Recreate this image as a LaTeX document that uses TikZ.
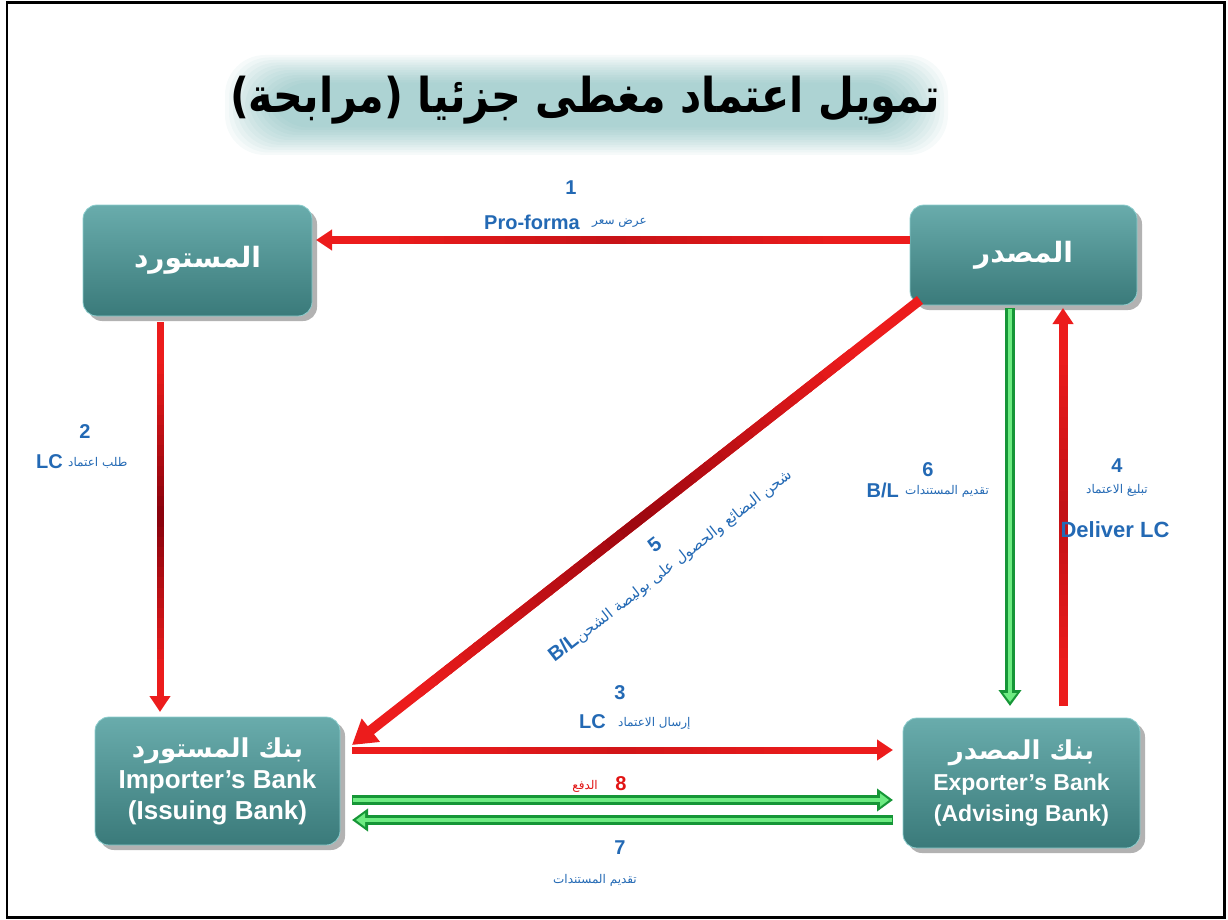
\documentclass[tikz,border=0pt]{standalone}
\usepackage{fontspec}
\setmainfont{Liberation Sans}
\newfontfamily\arabicfont[Script=Arabic]{DejaVu Sans}
\TeXXeTstate=1
\usetikzlibrary{arrows.meta,shadows,calc}
\definecolor{lblue}{RGB}{35,105,180}
\definecolor{boxtop}{RGB}{105,172,172}
\definecolor{boxbot}{RGB}{58,122,122}
\definecolor{boxedge}{RGB}{140,205,205}
\definecolor{arrred}{RGB}{236,28,28}
\definecolor{arrdark}{RGB}{130,0,12}
\definecolor{grdark}{RGB}{22,150,55}
\definecolor{grlight}{RGB}{110,235,130}
\definecolor{glowc}{RGB}{80,160,160}
\definecolor{lred}{RGB}{225,20,20}
\newcommand\midshade[4]{%
  \foreach \i in {0,...,29}{%
    \pgfmathsetmacro\ta{0.12+\i*0.76/30}%
    \pgfmathsetmacro\tb{0.12+(\i+1)*0.76/30+0.003}%
    \pgfmathsetmacro\dk{#3*(1-abs(0.12+(\i+0.5)*0.76/30-0.5)/0.38)}%
    \draw[line width=#4, draw=arrdark!\dk!arrred] ($#1!\ta!#2$) -- ($#1!\tb!#2$);%
  }}
\begin{document}
\begin{tikzpicture}[x=1pt,y=-1pt,
  box/.style={rounded corners=14pt, top color=boxtop, bottom color=boxbot, draw=boxedge,
    line width=0.8pt, text=white, align=center, outer sep=0pt, inner sep=2pt,
    drop shadow={shadow xshift=5pt, shadow yshift=-5pt, opacity=0.3, fill=black}},
  boxar/.style={font=\arabicfont\bfseries\fontsize{28}{32}\selectfont},
  boxen/.style={font=\bfseries\fontsize{#1}{31}\selectfont},
  redarr/.style={draw=arrred, line width=#1, -{Triangle[length=16pt,width=20pt]}},
  bigred/.style={draw=arrred, line width=#1, -{Triangle[length=24pt,width=28pt]}},
  greenarr/.style={draw=grdark, line width=10pt, -{Triangle[length=16pt,width=22pt]},
    postaction={draw=grlight, line width=4.5pt, -{Triangle[length=9pt,width=13pt]}, shorten >=4pt, shorten <=1pt}},
  lbl/.style={text=lblue, font=\bfseries\fontsize{20}{22}\selectfont, inner sep=0pt},
  arlbl/.style={text=lblue, font=\arabicfont\fontsize{12}{14}\selectfont, inner sep=0pt}
]
\useasboundingbox (0,0) rectangle (1228,920);
\draw[line width=2.2pt] (7,2.5) rectangle (1224.5,917.5);

% title glow
\foreach \k in {0,...,11}{
  \fill[glowc, opacity=0.05, rounded corners=40pt]
    (225+4*\k,55+2.5*\k) rectangle (948-4*\k,155-2.5*\k);
}
\node[text=black, xscale=0.86, font=\arabicfont\bfseries\fontsize{48}{52}\selectfont] (title) at (585,100)
  {\beginR تمويل اعتماد مغطى جزئيا (مرابحة)\endR};

% boxes
\node[box, boxar, minimum width=229pt, minimum height=111pt] (imp) at (197.5,260.5) {\beginR المستورد\endR};
\node[box, boxar, minimum width=227pt, minimum height=100pt] (exp) at (1023.5,255) {\beginR المصدر\endR};
\node[box, boxen=26, minimum width=245pt, minimum height=128pt] (ibank) at (217.5,781)
  {{\arabicfont\beginR بنك المستورد\endR}\\Importer’s Bank\\(Issuing Bank)};
\node[box, boxen=23, minimum width=237pt, minimum height=130pt] (ebank) at (1021.5,783)
  {{\arabicfont\fontsize{26}{31}\selectfont\beginR بنك المصدر\endR}\\Exporter’s Bank\\(Advising Bank)};

% arrow 1
\draw[redarr=8pt, shorten >=4pt] ([yshift=15pt]exp.west) -- ([yshift=20.5pt]imp.east);
\midshade{([yshift=15pt]exp.west)}{([yshift=20.5pt]imp.east)}{35}{8pt}
% arrow 2
\draw[redarr=7pt, shorten <=6pt, shorten >=5pt] ([xshift=-37.5pt]imp.south) -- ([xshift=-57.5pt]ibank.north);
\midshade{([xshift=-37.5pt]imp.south)}{([xshift=-57.5pt]ibank.north)}{95}{7pt}
% arrow 3
\draw[redarr=7pt, shorten <=12pt, shorten >=10pt] ([yshift=31pt]ibank.east) -- ([yshift=33pt]ebank.west);
\midshade{([yshift=31pt]ibank.east)}{([yshift=33pt]ebank.west)}{25}{7pt}
% arrow 5
\draw[bigred=10pt] ([xshift=10pt,yshift=5pt]exp.south west) -- ([xshift=12pt,yshift=-28pt]ibank.north east);
\midshade{([xshift=10pt,yshift=5pt]exp.south west)}{([xshift=12pt,yshift=-28pt]ibank.north east)}{75}{10pt}
% arrow 4
\draw[redarr=9pt, shorten <=12pt, shorten >=3pt] ([xshift=41.5pt]ebank.north) -- ([xshift=39.5pt]exp.south);
\midshade{([xshift=41.5pt]ebank.north)}{([xshift=39.5pt]exp.south)}{40}{9pt}
% green arrows
\draw[greenarr] ([xshift=-13.5pt,yshift=-3pt]exp.south) -- ([xshift=-11.5pt,yshift=12pt]ebank.north);
\draw[greenarr] ([xshift=12pt,yshift=-19pt]ibank.east) -- ([xshift=-10pt,yshift=-17pt]ebank.west);
\draw[greenarr] ([xshift=-10pt,yshift=-37pt]ebank.west) -- ([xshift=12pt,yshift=-39pt]ibank.east);

% labels
\node[lbl] (n1) at (571,188) {1};
\node[lbl, anchor=east] (t1a) at (580,222) {Pro-forma};
\node[arlbl, anchor=west] (t1b) at (592,223) {\beginR عرض سعر\endR};

\node[lbl] (n2) at (85,432) {2};
\node[lbl, anchor=east] (t2a) at (63,462) {LC};
\node[arlbl, anchor=west] (t2b) at (68,463) {\beginR طلب اعتماد\endR};

\node[lbl] (n3) at (620,693) {3};
\node[lbl, anchor=east] (t3a) at (606,722) {LC};
\node[arlbl, anchor=west] (t3b) at (618,723) {\beginR إرسال الاعتماد\endR};

\node[lbl, text=lred] (n8) at (621,784) {8};
\node[arlbl, text=lred, anchor=east] (t8) at (598,786) {\beginR الدفع\endR};

\node[lbl] (n7) at (620,848) {7};
\node[arlbl] (t7) at (595,880) {\beginR تقديم المستندات\endR};

\node[lbl] (n6) at (928,470) {6};
\node[lbl, anchor=east] (t6a) at (899,490) {B/L};
\node[arlbl, anchor=west] (t6b) at (905,491) {\beginR تقديم المستندات\endR};

\node[lbl] (n4) at (1117,466) {4};
\node[arlbl] (t4a) at (1117,490) {\beginR تبليغ الاعتماد\endR};
\node[lbl, font=\bfseries\fontsize{22}{24}\selectfont] (t4b) at (1115,530) {Deliver LC};

\node[lbl, rotate=38, align=center] (l5) at (663,556)
  {5\\[2pt]B/L{\arabicfont\mdseries\fontsize{15}{17}\selectfont\beginR شحن البضائع والحصول على بوليصة الشحن\endR}};
\end{tikzpicture}
\end{document}
